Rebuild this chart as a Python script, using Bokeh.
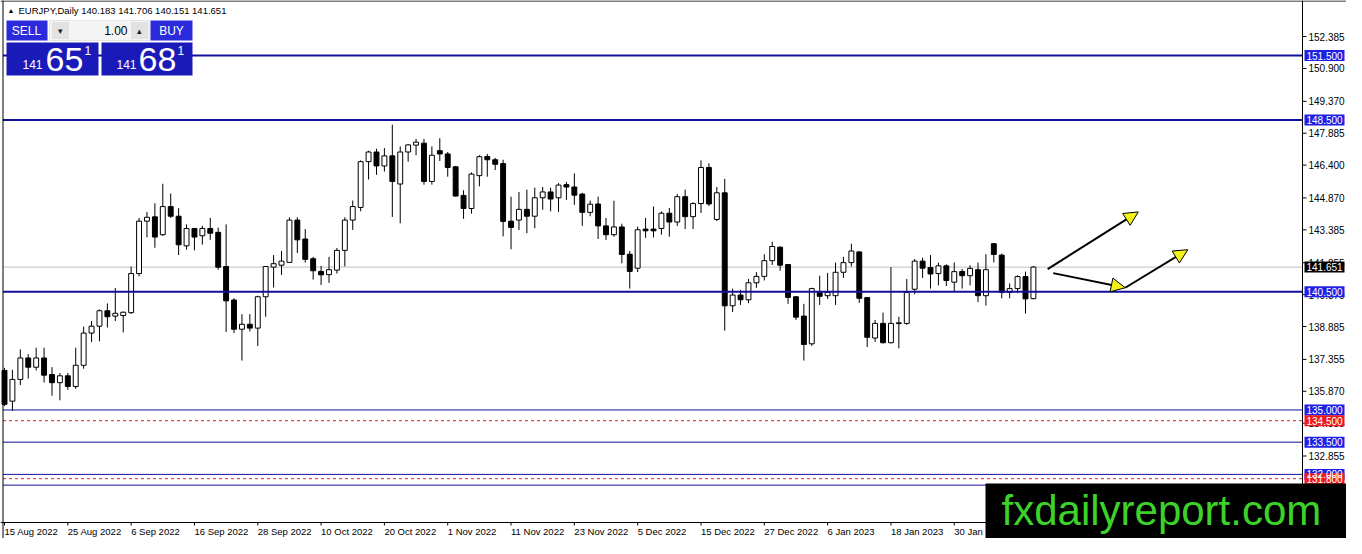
from bokeh.plotting import figure
from bokeh.models import (Range1d, Span, Label, BoxAnnotation, Arrow, NormalHead,
                          ColumnDataSource)
from bokeh.core.properties import value
from bokeh.embed import file_html
from bokeh.resources import INLINE

# ---------------- data (EURJPY daily) ----------------
OPEN = [136.84, 135.41, 136.42, 137.42, 136.99, 137.42, 136.65, 136.27, 136.59, 136.09,
        137.08, 138.58, 138.90, 139.62, 139.37, 139.40, 139.53, 141.35, 143.79, 143.99,
        143.16, 144.47, 144.02, 142.64, 143.45, 143.11, 143.45, 143.27, 141.68, 140.12,
        138.76, 138.99, 138.81, 140.27, 141.65, 141.74, 141.87, 143.84, 142.96, 142.04,
        141.45, 141.30, 141.51, 142.43, 143.84, 144.43, 146.56, 147.01, 146.36, 146.83,
        145.52, 147.01, 147.33, 147.42, 145.64, 147.07, 146.92, 146.32, 144.99, 144.38,
        145.91, 146.80, 146.65, 146.47, 143.79, 143.84, 144.34, 144.02, 144.88, 145.15,
        144.88, 145.49, 145.38, 145.05, 144.20, 144.59, 143.57, 143.16, 143.52, 142.25,
        141.60, 143.42, 143.42, 143.45, 144.16, 143.75, 144.93, 144.00, 144.61, 146.29,
        143.87, 145.11, 139.85, 140.35, 140.13, 140.92, 141.22, 141.95, 142.58, 141.77,
        140.27, 139.37, 138.08, 140.47, 140.32, 140.32, 141.41, 141.86, 142.36, 140.23,
        138.35, 139.03, 138.13, 139.02, 139.03, 140.62, 141.93, 141.63, 141.35, 141.71,
        140.95, 141.45, 141.25, 141.53, 140.32, 142.74, 142.21, 140.47, 140.65, 141.21,
        140.183]
HIGH = [136.96, 136.87, 137.82, 137.60, 137.90, 137.90, 136.99, 136.72, 136.72, 137.90,
        138.88, 139.14, 139.68, 139.96, 140.68, 139.58, 141.68, 143.94, 144.22, 144.62,
        145.53, 145.08, 144.40, 143.64, 143.47, 143.57, 143.94, 143.49, 143.64, 140.20,
        139.46, 139.46, 140.32, 141.70, 142.21, 142.40, 143.97, 143.97, 143.42, 142.13,
        141.71, 142.13, 142.54, 143.97, 144.75, 146.62, 147.07, 147.16, 147.19, 148.28,
        147.27, 147.37, 147.62, 147.62, 147.27, 147.65, 147.01, 146.36, 145.23, 146.06,
        146.86, 146.92, 146.74, 146.65, 144.93, 145.15, 145.26, 145.35, 145.38, 145.35,
        145.56, 145.61, 146.01, 145.11, 144.75, 144.93, 143.94, 144.74, 143.67, 142.40,
        143.54, 143.94, 144.47, 144.25, 144.40, 145.05, 145.26, 144.67, 146.62, 146.48,
        145.38, 145.76, 140.65, 140.59, 141.10, 141.42, 142.25, 142.84, 142.61, 141.80,
        140.30, 139.94, 140.69, 141.25, 141.38, 141.86, 142.13, 142.74, 142.38, 140.25,
        139.19, 139.53, 141.65, 139.34, 141.10, 142.03, 142.09, 142.21, 141.86, 141.78,
        141.87, 141.56, 141.74, 141.86, 142.25, 142.76, 142.28, 140.89, 141.27, 141.44,
        141.706]
LOW = [135.18, 134.95, 136.16, 136.46, 136.84, 136.28, 135.66, 135.45, 135.94, 135.98,
       136.92, 138.16, 138.20, 138.84, 139.14, 138.61, 139.47, 141.22, 143.04, 142.55,
       143.10, 143.94, 142.21, 142.46, 142.43, 142.70, 142.92, 141.53, 138.63, 138.58,
       137.30, 138.66, 137.98, 139.34, 140.70, 141.29, 141.85, 142.31, 141.86, 141.07,
       140.82, 140.92, 141.35, 141.68, 143.38, 144.25, 145.73, 145.95, 146.10, 143.99,
       143.69, 146.56, 146.86, 145.49, 145.49, 146.59, 145.86, 144.93, 143.90, 144.14,
       145.41, 145.86, 146.17, 143.08, 142.48, 143.38, 143.23, 143.46, 144.32, 144.25,
       144.22, 144.78, 144.55, 143.57, 144.02, 142.96, 142.92, 143.07, 141.83, 140.65,
       141.42, 143.01, 143.04, 143.16, 143.07, 143.57, 143.42, 143.42, 144.17, 144.50,
       143.79, 138.69, 139.56, 139.89, 139.97, 140.69, 141.03, 141.75, 141.48, 139.94,
       139.19, 137.30, 137.98, 139.89, 140.17, 139.89, 141.15, 141.68, 139.99, 137.93,
       138.17, 138.10, 138.10, 137.87, 138.96, 140.39, 141.15, 140.65, 140.80, 140.77,
       140.54, 140.65, 140.80, 140.02, 139.86, 141.87, 140.20, 140.20, 140.44, 139.49,
       140.151]
CLOSE = [135.26, 136.42, 137.42, 136.99, 137.42, 136.62, 136.27, 136.59, 136.09, 137.08,
         138.58, 138.90, 139.62, 139.34, 139.50, 139.55, 141.35, 143.79, 143.97, 143.05,
         144.47, 144.02, 142.69, 143.45, 143.05, 143.45, 143.23, 141.65, 140.08, 138.76,
         138.99, 138.81, 140.27, 141.68, 141.81, 141.93, 143.84, 142.92, 142.01, 141.48,
         141.29, 141.53, 142.43, 143.84, 144.47, 146.56, 147.01, 146.36, 146.83, 145.64,
         147.01, 147.34, 147.47, 145.64, 146.86, 146.92, 146.29, 144.96, 144.38, 145.98,
         146.79, 146.65, 146.44, 143.78, 143.50, 144.34, 144.02, 144.88, 145.15, 144.82,
         145.47, 145.38, 145.00, 144.20, 144.58, 143.57, 143.16, 143.52, 142.24, 141.45,
         143.39, 143.34, 143.34, 144.16, 143.75, 144.93, 144.00, 144.61, 146.29, 144.59,
         145.11, 139.85, 140.35, 140.13, 140.92, 141.22, 141.95, 142.61, 141.74, 140.24,
         139.32, 138.05, 140.65, 140.29, 140.47, 141.41, 141.86, 142.40, 140.20, 138.38,
         139.03, 138.13, 139.03, 139.06, 140.47, 141.93, 141.60, 141.33, 141.71, 141.03,
         141.44, 141.25, 141.59, 140.32, 141.53, 142.24, 140.47, 140.65, 141.21, 140.17,
         141.651]

DATE_LABELS = ["15 Aug 2022", "25 Aug 2022", "6 Sep 2022", "16 Sep 2022", "28 Sep 2022",
               "10 Oct 2022", "20 Oct 2022", "1 Nov 2022", "11 Nov 2022", "23 Nov 2022",
               "5 Dec 2022", "15 Dec 2022", "27 Dec 2022", "6 Jan 2023", "18 Jan 2023",
               "30 Jan 2023"]
DATE_STEP = 8

Y_TICKS = [152.385, 150.900, 149.370, 147.885, 146.400, 144.870, 143.385, 141.855,
           140.370, 138.885, 137.355, 135.870, 134.385, 132.855, 131.370]

LEVELS_MAIN = [151.5, 148.5, 140.5]
LEVELS_THIN = [135.0, 133.5, 132.0, 131.5]
LEVELS_RED = [134.5, 131.8]
LAST_PRICE = 141.651

TAG_VALUES = [151.5, 148.5, 140.5, 135.0, 133.5, 132.0, 134.5, 131.8, 141.651]
TAG_COLORS = ["#1f1fe6", "#1f1fe6", "#1f1fe6", "#1f1fe6", "#1f1fe6", "#1f1fe6",
              "#f01c1c", "#f01c1c", "#000000"]

ARROW_X0 = [131.8, 132.5, 141.6]
ARROW_Y0 = [141.56, 141.37, 140.69]
ARROW_X1 = [143.25, 141.6, 149.5]
ARROW_Y1 = [144.22, 140.69, 142.46]

HEADER = "EURJPY,Daily  140.183 141.706 140.151 141.651"

# ---------------- layout: the frame covers the whole canvas ----------------
W, H = 1346, 538
S = (1302 - 4) / 164.0        # px per bar; bar 0 at canvas x=4, price scale line at 1302
K = (522 - 119.5) / (148.5 - 129.76)   # px per yen; 148.5 at y=119.5, time scale at 522


def xd(c):
    return (c - 4) / S


def yd(c):
    return 148.5 - (c - 119.5) / K


DX, DY = 1 / S, 1 / K
X0, X1 = xd(2.5), xd(1302)
Y_TOP, Y_AX = yd(0.5), yd(522)
FONT = "Liberation Sans"

p = figure(width=W, height=H, x_range=Range1d(xd(0), xd(W)), y_range=Range1d(yd(H), yd(0)),
           output_backend="svg", toolbar_location=None, x_axis_location=None,
           y_axis_location=None, min_border=0, background_fill_color="white",
           border_fill_color="white", outline_line_color=None)
p.xgrid.visible = False
p.ygrid.visible = False

# borders / scale lines
p.add_layout(Span(location=X0, dimension="height", line_color="black", line_width=1))
p.add_layout(Span(location=Y_TOP, dimension="width", line_color="black", line_width=1))
p.add_layout(Span(location=X1, dimension="height", line_color="black", line_width=1))
p.add_layout(Span(location=Y_AX, dimension="width", line_color="black", line_width=1))

# price scale (right)
n = len(Y_TICKS)
p.segment(x0=[X1] * n, y0=Y_TICKS, x1=[X1 + 4 * DX] * n, y1=Y_TICKS,
          line_color="black", line_width=1)
p.text(x=[X1 + 6 * DX] * n, y=Y_TICKS, text=["%.3f" % t for t in Y_TICKS],
       text_font=value(FONT), text_font_size=value("10px"), text_color="black",
       text_baseline="middle", text_align="left")

# time scale (bottom)
bar_ticks = [i * DATE_STEP for i in range(len(DATE_LABELS))]
m = len(bar_ticks)
p.segment(x0=bar_ticks, y0=[Y_AX] * m, x1=bar_ticks, y1=[Y_AX - 3 * DY] * m,
          line_color="black", line_width=1)
p.text(x=bar_ticks, y=[Y_AX - 3 * DY] * m, text=DATE_LABELS,
       text_font=value(FONT), text_font_size=value("9.5px"), text_color="black",
       text_baseline="top", text_align="left")

# current price line (under candles)
p.segment(x0=[X0], y0=[LAST_PRICE], x1=[X1], y1=[LAST_PRICE], line_color="#c0c0c0",
          line_width=1)

# candles
xs = list(range(len(OPEN)))
src = ColumnDataSource(dict(
    x=xs, high=HIGH, low=LOW,
    top=[max(o, c) for o, c in zip(OPEN, CLOSE)],
    bottom=[min(o, c) for o, c in zip(OPEN, CLOSE)],
    fill=["white" if c >= o else "black" for o, c in zip(OPEN, CLOSE)]))
p.segment("x", "high", "x", "low", source=src, line_color="black", line_width=1)
p.vbar(x="x", width=0.62, top="top", bottom="bottom", source=src,
       fill_color="fill", line_color="black", line_width=1)

# horizontal levels (stop at the price scale)
p.segment(x0=[X0] * len(LEVELS_MAIN), y0=LEVELS_MAIN, x1=[X1] * len(LEVELS_MAIN),
          y1=LEVELS_MAIN, line_color="#10109a", line_width=2)
p.segment(x0=[X0] * len(LEVELS_THIN), y0=LEVELS_THIN, x1=[X1] * len(LEVELS_THIN),
          y1=LEVELS_THIN, line_color="#10109a", line_width=1)
p.segment(x0=[X0] * len(LEVELS_RED), y0=LEVELS_RED, x1=[X1] * len(LEVELS_RED),
          y1=LEVELS_RED, line_color="#d42020", line_width=1, line_dash="3 3")

# arrows
asrc = ColumnDataSource(dict(x0=ARROW_X0, y0=ARROW_Y0, x1=ARROW_X1, y1=ARROW_Y1))
p.add_layout(Arrow(end=NormalHead(size=14, fill_color="#f2f21a", line_color="black",
                                  line_width=1),
                   x_start="x0", y_start="y0", x_end="x1", y_end="y1", source=asrc,
                   line_color="black", line_width=2))

# price tags on the price scale
k = len(TAG_VALUES)
p.quad(left=[X1 + 2 * DX] * k, right=[X1 + 42 * DX] * k,
       top=[v + 5.5 * DY for v in TAG_VALUES], bottom=[v - 5.5 * DY for v in TAG_VALUES],
       fill_color=TAG_COLORS, line_color=None)
p.text(x=[X1 + 4 * DX] * k, y=TAG_VALUES, text=["%.3f" % v for v in TAG_VALUES],
       text_font=value(FONT), text_font_size=value("10px"), text_color="white",
       text_baseline="middle", text_align="left")


# ---------------- MT4 one-click trading panel, header, watermark ----------------
def box(x0, y0, x1, y1, color, line=None):
    p.add_layout(BoxAnnotation(left=x0, right=x1, top=H - y0, bottom=H - y1,
                               left_units="screen", right_units="screen",
                               top_units="screen", bottom_units="screen",
                               fill_color=color, fill_alpha=1.0,
                               line_color=line, line_width=1))


def txt(x, y, s, size, color, align="left"):
    p.add_layout(Label(x=x, y=H - y, x_units="screen", y_units="screen",
                       text=s, text_color=color, text_font=FONT, text_font_size=size,
                       text_align=align, text_baseline="middle"))


txt(7, 10, "\u25b2", "7px", "black")
txt(18, 10, HEADER, "9.5px", "black")

box(6, 20, 47, 40, "#2b2bdc")
box(49, 20, 149, 40, "#f4f4f4", "#b8b8b8")
box(52, 22, 68, 38, "#e2e2e2", "#c8c8c8")
box(131, 22, 147, 38, "#e2e2e2", "#c8c8c8")
box(150, 20, 192, 40, "#2b2bdc")
box(6, 42, 98, 75, "#1a1ab8")
box(101, 42, 192, 75, "#1a1ab8")

txt(26, 30, "SELL", "12px", "white", align="center")
txt(171, 30, "BUY", "12px", "white", align="center")
txt(127, 30, "1.00", "12px", "black", align="right")
txt(60, 30, "\u25be", "9px", "#202020", align="center")
txt(139, 30, "\u25b4", "9px", "#202020", align="center")

txt(22, 64, "141", "12px", "white")
txt(45, 59, "65", "34px", "white")
txt(84, 50, "1", "12px", "white")
txt(116, 64, "141", "12px", "white")
txt(138, 59, "68", "34px", "white")
txt(177, 50, "1", "12px", "white")

box(985, 483, 1400, 600, "black")
txt(1001, 510, "fxdailyreport.com", "42px", "#3cd22a")

open("out.html", "w").write(file_html(p, INLINE))
